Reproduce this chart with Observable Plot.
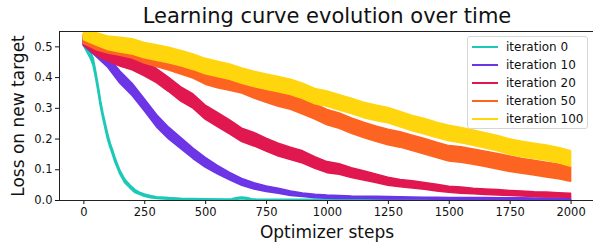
<!DOCTYPE html>
<html><head><meta charset="utf-8">
<script src="https://cdn.jsdelivr.net/npm/d3@7"></script>
<script src="https://cdn.jsdelivr.net/npm/@observablehq/plot@0.6"></script>
<style>
body{margin:0;background:#fff;font-family:"DejaVu Sans",sans-serif;color:#111;}
#wrap{position:relative;width:593px;height:242px;overflow:hidden;}
#title{position:absolute;left:59px;width:536px;top:2px;height:28px;line-height:28px;text-align:center;font-size:21px;white-space:nowrap;}
#chart{position:absolute;left:0;top:28px;}
#xlabel{position:absolute;left:59px;width:536px;top:222px;line-height:20px;text-align:center;font-size:17px;white-space:nowrap;}
#ylabel{position:absolute;left:-82px;top:105.5px;width:200px;line-height:20px;text-align:center;font-size:17px;white-space:nowrap;transform:rotate(-90deg);}
#legend{position:absolute;left:467px;top:36px;width:121px;height:93px;border:1px solid #d6d6d6;border-radius:3px;background:rgba(255,255,255,0.85);box-sizing:border-box;}
.item{position:absolute;left:0;height:18px;width:120px;}
.sw{position:absolute;left:4px;top:8px;width:26px;height:2.2px;}
.lab{position:absolute;left:38px;top:0;line-height:18px;font-size:12px;white-space:nowrap;}
</style></head>
<body>
<div id="wrap">
  <div id="title"></div>
  <div id="chart"></div>
  <div id="xlabel"></div>
  <div id="ylabel"></div>
  <div id="legend"></div>
</div>
<script>
const titleText = "Learning curve evolution over time";
const xLabel = "Optimizer steps";
const yLabel = "Loss on new target";
const seriesNames = ["iteration 0", "iteration 10", "iteration 20", "iteration 50", "iteration 100"];
const seriesColors = ["#1cc8b7", "#6c35e6", "#e0184f", "#fe6421", "#ffd50e"];
const xTicks = [0, 250, 500, 750, 1000, 1250, 1500, 1750, 2000];
const yTicks = [0, 0.1, 0.2, 0.3, 0.4, 0.5];

// iteration 0 has its own, finer step grid (it drops fast)
const tealSteps = [0,10,20,30,40,50,60,70,80,90,100,110,120,130,140,150,170,190,210,230,250,275,300,350,400,500,590,610,630,650,670,690,710,800,1000,1500,2000];
const tealMean  = [0.515,0.5,0.485,0.47,0.45,0.41,0.365,0.315,0.275,0.24,0.205,0.178,0.155,0.13,0.11,0.09,0.062,0.045,0.03,0.022,0.016,0.011,0.008,0.005,0.003,0.002,0.001,0.002,0.005,0.007,0.005,0.002,0.001,0.001,0.0005,0.0003,0.0002];
const tealNoise = [0.01,0.01,0.01,0.01,0.01,0.008,0.008,0.008,0.007,0.007,0.007,0.006,0.006,0.006,0.005,0.005,0.005,0.004,0.004,0.003,0.003,0.003,0.002,0.002,0.002,0.0015,0.0015,0.0015,0.002,0.002,0.002,0.0015,0.0015,0.001,0.001,0.001,0.001];

const steps = [0,50,100,150,200,250,300,350,400,450,500,550,600,650,700,750,800,850,900,950,1000,1050,1100,1150,1200,1250,1300,1350,1400,1450,1500,1550,1600,1650,1700,1750,1800,1850,1900,1950,2000];
const purpleMean  = [0.515,0.485,0.45,0.40,0.36,0.31,0.258,0.218,0.185,0.152,0.123,0.099,0.078,0.059,0.046,0.037,0.030,0.022,0.017,0.013,0.011,0.010,0.009,0.0085,0.008,0.0075,0.007,0.0065,0.006,0.0058,0.0055,0.0052,0.005,0.0048,0.0045,0.0043,0.004,0.0038,0.0036,0.0034,0.0032];
const purpleNoise = [0.012,0.016,0.018,0.02,0.02,0.02,0.02,0.019,0.018,0.017,0.016,0.014,0.012,0.011,0.01,0.009,0.008,0.007,0.006,0.006,0.005,0.005,0.004,0.004,0.004,0.004,0.0035,0.0035,0.003,0.003,0.003,0.003,0.003,0.003,0.003,0.003,0.003,0.003,0.003,0.003,0.003];
const crimsonMean  = [0.52,0.49,0.472,0.458,0.446,0.427,0.405,0.376,0.345,0.322,0.286,0.262,0.238,0.212,0.198,0.18,0.164,0.152,0.14,0.122,0.107,0.101,0.089,0.08,0.071,0.061,0.055,0.051,0.046,0.04,0.035,0.032,0.029,0.027,0.025,0.023,0.021,0.019,0.018,0.017,0.015];
const crimsonNoise = [0.015,0.018,0.02,0.022,0.022,0.023,0.023,0.023,0.023,0.023,0.023,0.023,0.023,0.022,0.022,0.021,0.021,0.02,0.02,0.019,0.018,0.017,0.016,0.015,0.014,0.013,0.012,0.012,0.011,0.011,0.01,0.01,0.009,0.009,0.009,0.008,0.008,0.008,0.008,0.007,0.007];
const orangeMean  = [0.525,0.51,0.5,0.494,0.486,0.47,0.458,0.447,0.435,0.422,0.402,0.39,0.382,0.373,0.357,0.343,0.33,0.32,0.305,0.288,0.27,0.258,0.242,0.228,0.216,0.205,0.197,0.186,0.175,0.163,0.152,0.148,0.141,0.134,0.126,0.118,0.111,0.105,0.099,0.093,0.085];
const orangeNoise = [0.015,0.02,0.022,0.023,0.024,0.024,0.024,0.024,0.025,0.025,0.025,0.025,0.025,0.025,0.025,0.025,0.025,0.025,0.025,0.025,0.025,0.025,0.025,0.025,0.025,0.025,0.025,0.025,0.025,0.025,0.025,0.025,0.025,0.025,0.025,0.025,0.024,0.024,0.024,0.024,0.024];
const goldMean  = [0.54,0.525,0.512,0.506,0.5,0.488,0.48,0.472,0.462,0.45,0.436,0.427,0.418,0.405,0.394,0.385,0.377,0.368,0.355,0.338,0.33,0.318,0.306,0.293,0.284,0.276,0.263,0.25,0.24,0.228,0.218,0.211,0.203,0.194,0.185,0.174,0.166,0.16,0.154,0.146,0.135];
const goldNoise = [0.018,0.02,0.022,0.024,0.025,0.025,0.025,0.025,0.025,0.025,0.025,0.025,0.025,0.025,0.025,0.025,0.025,0.025,0.025,0.025,0.025,0.025,0.025,0.025,0.025,0.025,0.025,0.025,0.025,0.025,0.025,0.025,0.025,0.025,0.025,0.025,0.025,0.025,0.025,0.025,0.025];

const seriesData = [
  [tealSteps, tealMean, tealNoise],
  [steps, purpleMean, purpleNoise],
  [steps, crimsonMean, crimsonNoise],
  [steps, orangeMean, orangeNoise],
  [steps, goldMean, goldNoise]
];
const edgeWidths = [2, 1.5, 1.5, 1.5, 1.5];

const tables = seriesData.map(([xs, ms, ns], i) =>
  xs.map((s, j) => ({series: seriesNames[i], step: s, lo: ms[j] - ns[j], hi: ms[j] + ns[j]}))
);

const chart = Plot.plot({
  width: 593,
  height: 214,
  marginTop: 3,
  marginBottom: 42,
  marginLeft: 59,
  marginRight: 0,
  style: {fontFamily: "DejaVu Sans, sans-serif", fontSize: "11.5px", color: "#111", background: "white"},
  x: {domain: [-100, 2092], ticks: xTicks, tickFormat: d3.format("d")},
  y: {domain: [0, 0.55], ticks: yTicks, tickFormat: d3.format(".1f")},
  color: {domain: seriesNames, range: seriesColors},
  marks: [
    ...tables.map((t, i) => Plot.areaY(t, {x: "step", y1: "lo", y2: "hi", fill: "series", stroke: "series", strokeWidth: edgeWidths[i], clip: true})),
    Plot.axisX({ticks: xTicks, tickFormat: d3.format("d"), tickSize: 4, tickPadding: 3, label: null, fontSize: 11.5}),
    Plot.axisY({ticks: yTicks, tickFormat: d3.format(".1f"), tickSize: 4, tickPadding: 3, label: null, fontSize: 11.5}),
    Plot.frame({anchor: "left", stroke: "#222"}),
    Plot.frame({anchor: "top", stroke: "#222"}),
    Plot.frame({anchor: "bottom", stroke: "#222"})
  ]
});
document.getElementById("chart").appendChild(chart);
document.getElementById("title").textContent = titleText;
document.getElementById("xlabel").textContent = xLabel;
document.getElementById("ylabel").textContent = yLabel;

const legend = document.getElementById("legend");
seriesNames.forEach((name, i) => {
  const it = document.createElement("div");
  it.className = "item";
  it.style.top = (1 + i * 17.9) + "px";
  const sw = document.createElement("div");
  sw.className = "sw";
  sw.style.background = seriesColors[i];
  const lab = document.createElement("div");
  lab.className = "lab";
  lab.textContent = name;
  it.appendChild(sw); it.appendChild(lab);
  legend.appendChild(it);
});
</script>
</body></html>
